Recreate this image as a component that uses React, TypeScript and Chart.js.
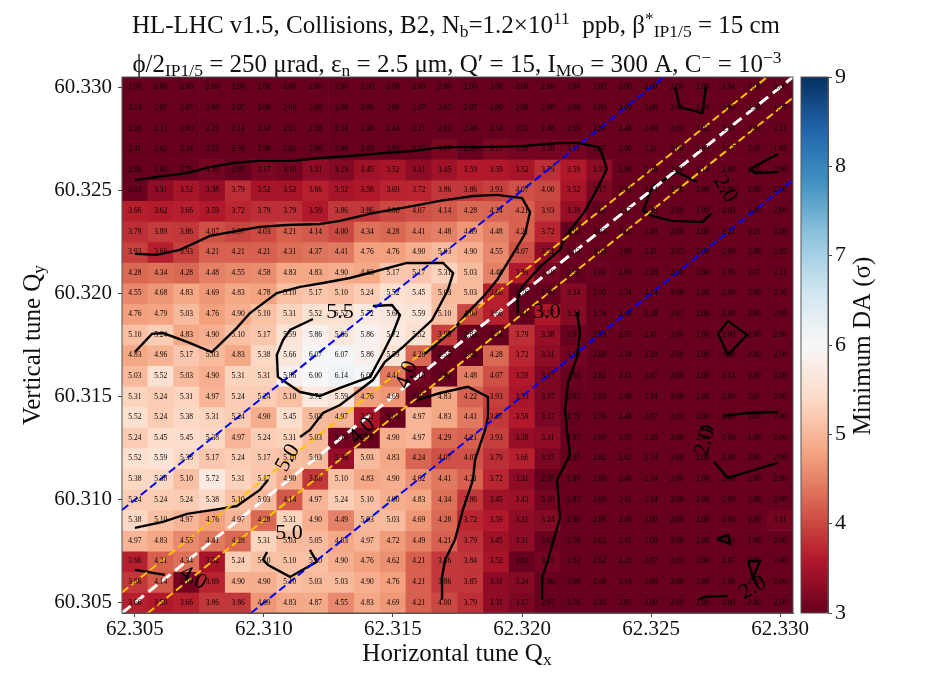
import React, { useEffect, useRef } from "react";
import { Chart, registerables } from "chart.js";

Chart.register(...registerables);

const FONT = '"Liberation Serif", "Times New Roman", serif';

const qxValues = [62.305, 62.306, 62.307, 62.308, 62.309, 62.31, 62.311, 62.312, 62.313, 62.314, 62.315, 62.316, 62.317, 62.318, 62.319, 62.32, 62.321, 62.322, 62.323, 62.324, 62.325, 62.326, 62.327, 62.328, 62.329, 62.33];
const qyValues = [60.33, 60.329, 60.328, 60.327, 60.326, 60.325, 60.324, 60.323, 60.322, 60.321, 60.32, 60.319, 60.318, 60.317, 60.316, 60.315, 60.314, 60.313, 60.312, 60.311, 60.31, 60.309, 60.308, 60.307, 60.306, 60.305];

const row00 = [2,2,2,2,2,2,2,2,2,2,2,2,2,2,2,2,2,2,2,2,2,2,2,1.94,2,2];
const row01 = [2.14,2.07,2.07,2,2.07,2,2,2,2,2,2,2.07,2.07,2.07,2,2,2,2,2,2,2,2,2,2,2,1.97];
const row02 = [2.28,2.11,2,2.21,2.14,2.34,2.21,2.28,2.34,2.48,2.34,2.21,2.62,2.48,2.34,2.55,2.48,2.69,2.83,2.48,2,2,1.92,2.03,2.03,2.21];
const row03 = [2.41,2.62,2.34,2.55,2.76,2.9,2.62,2.9,2.9,2.83,2.83,2.97,3.17,2.69,3.17,3.1,3.1,3.11,2.97,2.9,2.21,2,2.03,2.17,2.05,1.83];
const row04 = [2.84,2.83,2.76,3.1,2.97,3.17,3.1,3.31,3.23,3.45,3.52,3.31,3.45,3.59,3.59,3.52,3.79,3.59,3.31,2.9,2.4,2,2.1,2,2,2];
const row05 = [3.03,3.31,3.52,3.38,3.79,3.52,3.52,3.66,3.52,3.58,3.69,3.72,3.86,3.86,3.93,4.07,4,3.52,3.17,2.34,2.14,1.96,2,2,2,2];
const row06 = [3.66,3.62,3.66,3.59,3.72,3.79,3.79,3.59,3.86,3.86,4,4.07,4.14,4.28,4.24,4.21,3.93,3.38,2.62,2.17,2.26,2,1.9,2,2,2.8];
const row07 = [3.79,3.89,3.86,4.07,3.97,4.03,4.21,4.14,4,4.34,4.28,4.41,4.48,4.69,4.48,4.21,3.72,2.9,2.83,2.69,2.48,2,2,2.21,2.21,2];
const row08 = [3.93,3.66,3.93,4.21,4.21,4.21,4.31,4.37,4.41,4.76,4.76,4.9,5.03,4.9,4.55,4.07,3.31,3.03,2.69,2.69,2.21,2.07,2,2,2,2.05];
const row09 = [4.28,4.34,4.28,4.48,4.55,4.58,4.83,4.83,4.9,4.83,5.17,5.17,5.31,5.03,4.48,3.59,3.1,2.9,3.03,2.69,2.28,2,2,1.95,2.07,2.21];
const row10 = [4.55,4.68,4.83,4.69,4.83,4.78,5.1,5.17,5.1,5.24,5.52,5.45,5.03,5.03,3.66,2.76,2.9,3.24,2.9,2.34,2.14,2,2,2,2,2.36];
const row11 = [4.76,4.79,5.03,4.76,4.9,5.1,5.31,5.52,5.52,5.72,5.66,5.59,5.1,4,3.66,2.41,3.57,3.24,2.74,2.48,2.28,2.07,2,2,2,2.05];
const row12 = [5.1,5.24,4.83,4.9,5.1,5.17,5.59,5.86,5.66,5.86,5.72,5.52,3.93,2.83,2.34,3.79,3.38,3.03,2.83,2.55,2.41,2,2,2,2,2];
const row13 = [4.83,4.96,5.17,5.03,4.83,5.38,5.66,6.07,6.07,5.86,5.59,4.28,2.55,2.48,4.28,3.72,3.31,3.1,2.69,2.34,2.28,2,2,1.98,2,2];
const row14 = [5.03,5.52,5.03,4.9,5.31,5.31,5.86,6,6.14,6.07,4.41,3.1,2.62,4.48,4.07,3.59,3.17,3.03,2.62,2.41,2.07,2,2,2.14,2,2];
const row15 = [5.31,5.24,5.31,4.97,5.24,5.24,5.1,5.72,5.59,4.76,4.69,2.97,4.83,4.22,3.93,3.53,3.17,2.83,2.83,2.48,2.14,2,2,2,2.07,2];
const row16 = [5.52,5.24,5.38,5.31,5.24,4.9,5.45,5.03,4.97,3.52,3.03,4.97,4.83,4.41,3.87,3.59,3.17,2.79,2.76,2.48,2.07,2,2,2,2,2];
const row17 = [5.24,5.45,5.45,5.38,4.97,5.24,5.31,5.03,3.1,2.9,4.9,4.97,4.29,4.21,3.93,3.38,3.31,2.97,2.69,2.55,2.28,2,2,2,1.88,2];
const row18 = [5.52,5.59,5.38,5.17,5.24,5.17,5.1,5.03,3.38,5.03,4.83,4.24,4.07,4.07,3.79,3.66,3.17,2.97,2.62,2.62,2.14,2,2,2,2,2];
const row19 = [5.38,5.38,5.1,5.72,5.31,5.17,4.9,3.86,5.1,4.83,4.9,4.62,4.41,4.21,3.72,3.31,2.97,2.69,2.69,2.48,2.14,2,2,2,2,2];
const row20 = [5.24,5.24,5.24,5.38,5.1,5.03,4.14,4.97,5.24,5.1,4.9,4.83,4.34,3.86,3.45,3.43,3.1,2.83,2.69,2.41,2.14,2,2,2,2,2];
const row21 = [5.38,5.1,4.97,4.76,4.97,4.28,5.31,4.9,4.49,5.03,5.03,4.69,4.28,3.72,3.59,3.31,3.24,2.9,2.69,2.48,2,2,2,2,2,3.11];
const row22 = [4.97,4.83,4.55,4.41,4.28,5.31,5.03,5.05,4.83,4.97,4.72,4.49,4.21,3.79,3.45,3.31,3.03,2.76,2.62,2.41,2,2,2,2,1.86,2];
const row23 = [3.66,4.21,4.34,3.52,5.24,5.1,5.1,5.1,4.9,4.76,4.62,4.21,3.86,3.84,3.52,3.02,3.1,2.83,2.62,2.28,2.07,2,2,2.07,2,2];
const row24 = [3.86,4.14,3.1,3.69,4.9,4.9,5.1,5.03,5.03,4.9,4.76,4.21,3.86,3.85,3.31,3.24,2.9,2.69,2.48,2.14,2,2,2,1.98,2,2];
const row25 = [3.66,3.59,3.66,3.86,3.86,4.69,4.83,4.87,4.55,4.83,4.69,4.21,4,3.79,3.31,3.17,2.97,2.76,2.41,2.07,2,2,2,2,2,2];
const daRows = [row00,row01,row02,row03,row04,row05,row06,row07,row08,row09,row10,row11,row12,row13,row14,row15,row16,row17,row18,row19,row20,row21,row22,row23,row24,row25];

const xTicks = [62.305, 62.31, 62.315, 62.32, 62.325, 62.33];
const yTicks = [60.305, 60.31, 60.315, 60.32, 60.325, 60.33];
const cbTicks = [3, 4, 5, 6, 7, 8, 9];
const rdBu = ["#67001f", "#b2182b", "#d6604d", "#f4a582", "#fddbc7", "#f7f7f7", "#d1e5f0", "#92c5de", "#4393c3", "#2166ac", "#053061"];

type P = [number, number];
const contour30a: P[] = [[62.305,60.3255],[62.30585,60.32565],[62.30702,60.32584],[62.30791,60.32613],[62.3088,60.32633],[62.30984,60.32643],[62.31112,60.32643],[62.31217,60.32657],[62.31333,60.32667],[62.31461,60.32681],[62.31578,60.32691],[62.31671,60.32706],[62.31748,60.3271],[62.31849,60.3271],[62.32004,60.32715],[62.32147,60.3273],[62.32217,60.3273],[62.32295,60.3271],[62.3231,60.32677],[62.32329,60.32604],[62.32295,60.32516],[62.32244,60.324],[62.32167,60.32274],[62.32147,60.32211],[62.3207,60.32129],[62.32,60.32032],[62.31981,60.31969],[62.31984,60.31905]];
const contour30b: P[] = [[62.32213,60.3191],[62.32225,60.31808],[62.32213,60.31692],[62.32178,60.31566],[62.32167,60.31435],[62.32174,60.31338],[62.32186,60.31217],[62.32136,60.31096],[62.32147,60.30911],[62.32097,60.30693],[62.32078,60.30625],[62.32078,60.30514]];
const contour40a: P[] = [[62.305,60.32192],[62.30585,60.32187],[62.30674,60.32211],[62.30791,60.32279],[62.30895,60.32303],[62.30984,60.32323],[62.31089,60.32332],[62.31217,60.32337],[62.31295,60.32352],[62.31422,60.3239],[62.31554,60.32419],[62.31682,60.32449],[62.3181,60.32473],[62.31903,60.32478],[62.32,60.32463],[62.32031,60.32395],[62.32012,60.32289],[62.31965,60.32192],[62.31903,60.32065],[62.31849,60.31983],[62.31787,60.31905],[62.31733,60.31823],[62.31624,60.31707]];
const contour40b: P[] = [[62.31593,60.31483],[62.31682,60.31517],[62.31791,60.31547],[62.31868,60.31498],[62.31868,60.31401],[62.31857,60.31338],[62.31818,60.31193],[62.3181,60.31096],[62.31771,60.3095],[62.3174,60.30805],[62.31702,60.30708],[62.3169,60.30625],[62.3169,60.30514]];
const contour40c: P[] = [[62.305,60.30659],[62.30616,60.30635]];
const contour50a: P[] = [[62.305,60.31716],[62.30566,60.31804],[62.30609,60.31808],[62.30702,60.31765],[62.30798,60.31716],[62.30895,60.31833],[62.30946,60.31905],[62.3105,60.32002],[62.3114,60.32032],[62.31229,60.32051],[62.31333,60.32075],[62.31422,60.32104],[62.31554,60.32148],[62.31694,60.32148],[62.31733,60.32099],[62.31713,60.32017],[62.31651,60.31871],[62.31539,60.31741],[62.31469,60.31668],[62.31422,60.3158],[62.31295,60.31459],[62.31229,60.3142],[62.31178,60.31338],[62.3114,60.31304]];
const contour50b: P[] = [[62.31016,60.31096],[62.30984,60.31047],[62.30895,60.30969],[62.30829,60.30955],[62.30702,60.30931],[62.30609,60.30892],[62.305,60.30863]];
const contour50c: P[] = [[62.31012,60.30746],[62.30996,60.30708],[62.31016,60.30683],[62.31101,60.30625],[62.31205,60.30698],[62.31178,60.30756]];
const contour55: P[] = [[62.3119,60.31876],[62.31101,60.31823],[62.31074,60.31774],[62.3105,60.31702],[62.31054,60.31595],[62.3114,60.31522],[62.31217,60.31503],[62.31295,60.31542],[62.31411,60.31595],[62.31461,60.31711],[62.315,60.31808],[62.31527,60.31896],[62.31496,60.31944],[62.31422,60.31939]];
const contour20a: P[] = [[62.32593,60.33001],[62.32612,60.32904],[62.32698,60.32875],[62.32713,60.33001]];
const contour20b: P[] = [[62.32992,60.32677],[62.32884,60.32604],[62.32903,60.32584],[62.32992,60.32589]];
const contour20c: P[] = [[62.32678,60.32541],[62.32601,60.32589],[62.32504,60.32516],[62.32469,60.324],[62.32504,60.32376],[62.32581,60.32352],[62.32698,60.32347],[62.32736,60.3239]];
const contour20d: P[] = [[62.32798,60.31867],[62.32872,60.31799],[62.32798,60.31702],[62.3276,60.31804],[62.32798,60.31867]];
const contour20e: P[] = [[62.32779,60.31406],[62.32876,60.3142],[62.32992,60.31425]];
const contour20f: P[] = [[62.3269,60.31348],[62.32717,60.31357],[62.3274,60.31338]];
const contour20g: P[] = [[62.32744,60.31183],[62.32798,60.31105],[62.32992,60.31178]];
const contour20h: P[] = [[62.32756,60.30809],[62.32798,60.30829],[62.32806,60.30785],[62.32756,60.30809]];
const contour20i: P[] = [[62.32876,60.30703],[62.32922,60.30703],[62.32895,60.3062],[62.32876,60.30703]];
const contour20j: P[] = [[62.32682,60.30514],[62.32709,60.30528],[62.32798,60.30533]];
const contourLines = [contour30a,contour30b,contour40a,contour40b,contour40c,contour50a,contour50b,contour50c,contour55,contour20a,contour20b,contour20c,contour20d,contour20e,contour20f,contour20g,contour20h,contour20i,contour20j];

const contourLabels: [string, number, number, number][] = [
  ["5.5",62.31295,60.3191,0],["3.0",62.32097,60.3191,0],["5.0",62.31097,60.30839,0],["5.0",62.31093,60.31202,-60],
  ["4.0",62.31554,60.31605,-70],["4.0",62.3138,60.31333,-45],["4.0",62.30725,60.3062,30],["2.0",62.32787,60.32507,60],
  ["2.0",62.32709,60.3128,-75],["2.0",62.32895,60.30572,-30],
];

const resonanceCentre: P[] = [[62.3045,60.3045],[62.3305,60.3305]];
const goldUpper: P[] = [[62.3045,60.3055],[62.3295,60.3305]];
const goldLower: P[] = [[62.3055,60.3045],[62.3305,60.3295]];
const blueUpper: P[] = [[62.3045,60.3095],[62.3255,60.3305]];
const blueLower: P[] = [[62.3095,60.3045],[62.3305,60.3255]];

type Run = { t: string; k?: "sub" | "sup" };
const title1: Run[] = [{t:"HL-LHC v1.5, Collisions, B2, N"},{t:"b",k:"sub"},{t:"=1.2×10"},{t:"11",k:"sup"},{t:"  ppb, β"},{t:"*",k:"sup"},{t:"IP1/5",k:"sub"},{t:" = 15 cm"}];
const title2: Run[] = [{t:"ϕ/2"},{t:"IP1/5",k:"sub"},{t:" = 250 μrad, ε"},{t:"n",k:"sub"},{t:" = 2.5 μm, Q′ = 15, I"},{t:"MO",k:"sub"},{t:" = 300 A, C"},{t:"−",k:"sup"},{t:" = 10"},{t:"−3",k:"sup"}];
const xTitle: Run[] = [{t:"Horizontal tune Q"},{t:"x",k:"sub"}];
const yTitle: Run[] = [{t:"Vertical tune Q"},{t:"y",k:"sub"}];
const cbTitle: Run[] = [{t:"Minimum DA (σ)"}];

function hex(c: string) { return [1,3,5].map((i) => parseInt(c.slice(i,i+2),16)); }
function colorFor(v: number) {
  const t = Math.min(1, Math.max(0, (v - 3) / 6)) * 10;
  const i = Math.min(9, Math.floor(t));
  const a = hex(rdBu[i]), b = hex(rdBu[i+1]), f = t - i;
  return `rgb(${a.map((p,j)=>Math.round(p+(b[j]-p)*f)).join(",")})`;
}

function drawRuns(ctx: CanvasRenderingContext2D, runs: Run[], x: number, y: number, size: number, rot = 0) {
  const small = size * 0.7;
  const font = (r: Run) => `${r.k ? small : size}px ${FONT}`;
  let w = 0;
  runs.forEach((r) => { ctx.font = font(r); w += ctx.measureText(r.t).width; });
  ctx.save();
  ctx.translate(x, y);
  ctx.rotate(rot);
  ctx.fillStyle = "#111";
  ctx.textAlign = "left";
  ctx.textBaseline = "alphabetic";
  let cx = -w / 2;
  runs.forEach((r) => {
    ctx.font = font(r);
    ctx.fillText(r.t, cx, r.k === "sub" ? size * 0.16 : r.k === "sup" ? -size * 0.38 : 0);
    cx += ctx.measureText(r.t).width;
  });
  ctx.restore();
}

const heatPlugin = {
  id: "heatOverlay",
  afterDatasetsDraw(chart: any) {
    const { ctx, scales: { x, y }, chartArea: a } = chart;
    ctx.save();
    ctx.fillStyle = "#000";
    ctx.font = `7.5px ${FONT}`;
    ctx.textAlign = "center";
    ctx.textBaseline = "middle";
    daRows.forEach((row, r) => row.forEach((v, c) => {
      ctx.fillText(v.toFixed(2), x.getPixelForValue(qxValues[c]), y.getPixelForValue(qyValues[r]));
    }));
    ctx.font = `22px ${FONT}`;
    contourLabels.forEach(([t, qx, qy, deg]) => {
      ctx.save();
      ctx.translate(x.getPixelForValue(qx), y.getPixelForValue(qy));
      ctx.rotate((deg * Math.PI) / 180);
      ctx.fillText(t, 0, 0);
      ctx.restore();
    });
    ctx.strokeStyle = "#555";
    ctx.lineWidth = 1;
    ctx.strokeRect(a.left, a.top, a.right - a.left, a.bottom - a.top);
    ctx.restore();
    drawRuns(ctx, title1, 456, 33, 25);
    drawRuns(ctx, title2, 457, 72, 25);
    drawRuns(ctx, xTitle, 457, 661, 25);
    drawRuns(ctx, yTitle, 40, 345, 25, -Math.PI / 2);
  },
};

const cbPlugin = {
  id: "cbOverlay",
  afterDraw(chart: any) {
    const { ctx, chartArea: a } = chart;
    ctx.save();
    ctx.strokeStyle = "#555";
    ctx.strokeRect(a.left, a.top, a.right - a.left, a.bottom - a.top);
    ctx.restore();
    drawRuns(ctx, cbTitle, 80, 346, 25, -Math.PI / 2);
  },
};

const lineDs = (data: P[], color: string, width: number, dash: number[] = []) => ({
  type: "line",
  data: data.map(([x, y]) => ({ x, y })),
  borderColor: color,
  borderWidth: width,
  borderDash: dash,
  pointRadius: 0,
  tension: 0,
  fill: false,
});

export default function App() {
  const mainRef = useRef<HTMLCanvasElement>(null);
  const cbRef = useRef<HTMLCanvasElement>(null);

  useEffect(() => {
    const halfCellY = 0.0005;
    const cellSets = daRows.map((row, r) => ({
      type: "bar",
      data: row.map((_, c) => ({ x: qxValues[c], y: [qyValues[r] - halfCellY, qyValues[r] + halfCellY] })),
      backgroundColor: row.map(colorFor),
      borderWidth: 0,
      barPercentage: 1,
      categoryPercentage: 1,
      grouped: false,
    }));
    const tickFont = { family: FONT, size: 21 };
    const main = new Chart(mainRef.current!, {
      type: "bar",
      data: {
        datasets: [
          lineDs(resonanceCentre, "#ffffff", 3, [11, 6]),
          lineDs(goldUpper, "#ffc400", 2, [8, 4]),
          lineDs(goldLower, "#ffc400", 2, [8, 4]),
          lineDs(blueUpper, "#0000ff", 2, [8, 4]),
          lineDs(blueLower, "#0000ff", 2, [8, 4]),
          ...contourLines.map((c) => lineDs(c, "#000000", 2.4)),
          ...cellSets,
        ] as any,
      },
      options: {
        animation: false,
        responsive: false,
        devicePixelRatio: 1,
        layout: { padding: { left: 0, top: 77, right: 140, bottom: 0 } },
        plugins: { legend: { display: false }, tooltip: { enabled: false }, title: { display: false } },
        scales: {
          x: {
            type: "linear", min: 62.3045, max: 62.3305, offset: false,
            grid: { drawOnChartArea: false, drawTicks: true, tickLength: 4, color: "#444", offset: false },
            border: { display: true, color: "#555" },
            afterBuildTicks: (s: any) => { s.ticks = xTicks.map((value) => ({ value })); },
            afterFit: (s: any) => { s.height = 73; },
            ticks: { font: tickFont, color: "#111", padding: 0, maxRotation: 0, autoSkip: false, callback: (v: any) => Number(v).toFixed(3) },
          },
          y: {
            type: "linear", min: 60.3045, max: 60.3305,
            grid: { drawOnChartArea: false, drawTicks: true, tickLength: 4, color: "#444" },
            border: { display: true, color: "#555" },
            afterBuildTicks: (s: any) => { s.ticks = yTicks.map((value) => ({ value })); },
            afterFit: (s: any) => { s.width = 122; },
            ticks: { font: tickFont, color: "#111", padding: 6, autoSkip: false, callback: (v: any) => Number(v).toFixed(3) },
          },
        },
      } as any,
      plugins: [heatPlugin],
    });

    const cb = new Chart(cbRef.current!, {
      type: "bar",
      data: {
        labels: ["DA"],
        datasets: [{
          data: [[3, 9]],
          barPercentage: 1,
          categoryPercentage: 1,
          borderWidth: 0,
          backgroundColor: (c: any) => {
            const a = c.chart.chartArea;
            if (!a) return rdBu[0];
            const g = c.chart.ctx.createLinearGradient(0, a.bottom, 0, a.top);
            rdBu.forEach((col, i) => g.addColorStop(i / (rdBu.length - 1), col));
            return g;
          },
        }],
      } as any,
      options: {
        animation: false,
        responsive: false,
        devicePixelRatio: 1,
        layout: { padding: { left: 11, top: 77, right: 0, bottom: 73 } },
        plugins: { legend: { display: false }, tooltip: { enabled: false } },
        scales: {
          x: { display: false },
          y: {
            position: "right", min: 3, max: 9,
            grid: { drawOnChartArea: false, drawTicks: true, tickLength: 4, color: "#444" },
            border: { display: true, color: "#555" },
            afterBuildTicks: (s: any) => { s.ticks = cbTicks.map((value) => ({ value })); },
            afterFit: (s: any) => { s.width = 105; },
            ticks: { font: { family: FONT, size: 22 }, color: "#111", padding: 3 },
          },
        },
      } as any,
      plugins: [cbPlugin],
    });
    return () => { main.destroy(); cb.destroy(); };
  }, []);

  return (
    <div style={{ position: "absolute", left: 0, top: 0, width: 933, height: 686, background: "#fff", overflow: "hidden" }}>
      <canvas ref={mainRef} width={933} height={686} style={{ position: "absolute", left: 0, top: 0 }} />
      <canvas ref={cbRef} width={143} height={686} style={{ position: "absolute", left: 790, top: 0 }} />
    </div>
  );
}
